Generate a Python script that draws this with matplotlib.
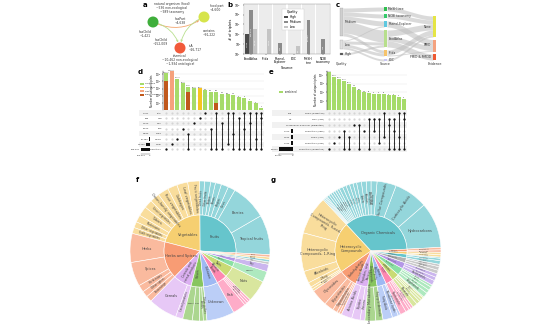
import numpy as np
import matplotlib
matplotlib.use("Agg")
import matplotlib.pyplot as plt
import matplotlib.colors as mcolors
from matplotlib.patches import Wedge, Circle, FancyArrowPatch, Rectangle

W, H = 534, 324

# ---------------- data ----------------
# a: knowledge graph schema
a_node_labels = ["natural organism (food)\n~536 non-ecological\n~989 taxonomy",
                 "food part\n~4,600",
                 "chemical\n~10,462 non-ecological\n~1,934 ontological"]
a_edge_labels = ["hasPart\n~4,638", "contains\n~91,222", "isA\n~26,717",
                 "hasChild\n~1,421", "hasChild\n~152,009"]

# b: triplets per source and quality
b_sources = ["FoodAtlas", "Frida", "Phenol-\nExplorer", "FDC", "MeSH\ntree", "NCBI\ntaxonomy"]
b_high = [1035, 0, 0, 0, 0, 0]
b_medium = [304210, 0, 142, 0, 25680, 318]
b_low = [3120, 3364, 0, 61, 0, 0]

# c: sankey quality -> source -> evidence
c_quality = ["Medium", "Low", "High"]
c_sources = ["MeSH tree", "NCBI taxonomy", "Phenol-Explorer", "FoodAtlas", "Frida", "FDC"]
c_evidence = ["None", "PMID", "PMID & PMCID"]
c_q2s = [("Medium", "MeSH tree", 4), ("Medium", "NCBI taxonomy", 4), ("Medium", "Phenol-Explorer", 5),
         ("Medium", "FoodAtlas", 12), ("Medium", "Frida", 3), ("Low", "Phenol-Explorer", 1),
         ("Low", "FoodAtlas", 3), ("Low", "Frida", 3), ("Low", "FDC", 2), ("High", "FoodAtlas", 2)]
c_s2e = [("MeSH tree", "None", 4), ("NCBI taxonomy", "None", 4), ("Phenol-Explorer", "PMID", 6),
         ("FoodAtlas", "None", 6), ("FoodAtlas", "PMID", 5), ("FoodAtlas", "PMID & PMCID", 6),
         ("Frida", "None", 5), ("Frida", "PMID", 1), ("FDC", "None", 2)]

# d: upset of sources
d_rows = ["TAX", "NMI", "FDC", "PhX", "Frida", "MeSH", "NCBI", "FoodAtlas"]
d_sizes = [1421, 989, 4600, 6210, 9540, 12480, 91222, 205331]
d_sets = [[7], [6], [5], [3], [4, 7], [2], [1], [0], [3, 7], [0, 7], [2, 7], [0, 6],
          [0, 4, 7], [1, 7], [0, 3, 7], [0, 2, 7], [0, 5, 7], [0, 1, 7]]
d_totals = [160000, 300000, 25000, 5500, 1780, 1060, 1050, 640, 380, 375, 180, 175, 140, 66, 50, 21, 9, 2]
d_lower = [12000, 0, 0, 0, 380, 0, 0, 0, 0, 11, 0, 0, 0, 0, 0, 0, 0, 0]
d_kind = ["g", "s", "g", "g", "g", "g", "y", "g", "g", "g", "g", "g", "g", "g", "g", "g", "g", "g"]
d_legend = ["combined", "FoodAtlas", "Frida", "Phenol-Explorer"]

# e: upset of weighting schemes
e_rows = ["Frida (weighted)", "FDC (raw)", "Phenol-Explorer (weighted)", "FoodAtlas (high)",
          "Frida (raw)", "FoodAtlas (raw)", "FoodAtlas (weighted)"]
e_sizes = [138, np.nan, 1000, 4410, 4342, 4793, 30512]
e_sets = [[6], [5], [4], [3, 6], [4, 6], [2], [2, 6], [3], [1, 6], [1, 3], [1, 5], [0, 4],
          [1, 2, 6], [1, 3, 6], [0, 4, 6], [0, 1, 6]]
e_totals = [22000, 6400, 3800, 2100, 1000, 440, 175, 100, 85, 69, 69, 68, 46, 45, 30, 18]

# f: food ontology sunburst
f_cats = ["Fruits", "Vegetables", "Herbs and Spices", "Cereals and\ncereal products", "Pulses", "Unknown",
          "Aquatic\nFoods", "Nuts", "Gourds", "Soy", "Teas", "Coffee", "Cocoa", "Dairy"]
f_kids = [["Tropical fruits", "Berries", "Citrus", "Drupes", "Pomes", "Melons", "Other fruits", "Dried fruits"],
          ["Fruit vegetables", "Leaf vegetables", "Cabbages", "Root vegetables", "Onion-family vegetables",
           "Shoot vegetables", "Tubers", "Mushrooms", "Other vegetables", "Stalk vegetables"],
          ["Herbs", "Spices", "Herb mixes", "Other spices", "Seasonings"],
          ["Cereals", "Cereal products"],
          ["Beans", "Peas", "Lentils", "Other pulses"],
          ["Unknown"],
          ["Fish", "Molluscs", "Crustaceans", "Seaweed"],
          ["Nuts"], ["Gourds"], ["Soy"], ["Teas"], ["Coffee"], ["Cocoa"], ["Dairy"]]
f_vals = [[33, 30, 6, 6, 5, 4, 5, 4],
          [10, 9, 8, 9, 8, 7, 8, 6, 5, 5],
          [24, 20, 6, 5, 5],
          [24, 6],
          [8, 6, 3, 3],
          [23],
          [11, 2, 2, 2],
          [18], [9], [6], [2], [2], [2], [2]]

# g: chemical ontology sunburst
g_cats = ["Organic Chemicals", "Heterocyclic\nCompounds", "Carbohydrates", "Amino Acids,\nPeptides, and\nProteins",
          "Polycyclic\nCompounds", "Lipids", "Nucleic\nAcids", "Inorganic\nChemicals", "Polymers", "Pigments",
          "Hormones", "Vitamins", "Enzymes", "Toxins"]
g_kids = [["Hydrocarbons", "Carboxylic Acids", "Sulfur Compounds", "Alcohols", "Aldehydes", "Ketones", "Esters",
           "Ethers", "Phenols", "Amines", "Amides", "Lactones", "Nitriles", "Quinones", "Halogenated", "Acetals",
           "Anhydrides", "Imines", "Thiols", "Peroxides", "Epoxides", "Oximes"],
          ["Heterocyclic\nCompounds, Fused-\nRing", "Heterocyclic\nCompounds, 1-Ring", "Alkaloids",
           "2-Ring", "Bridged-Ring", "Other"],
          ["Glycosides", "Polysaccharides", "Oligosaccharides", "Monosaccharides", "Sugar Alcohols"],
          ["Amino Acids", "Peptides", "Proteins"],
          ["Secondary Metabolites", "Polycyclic Aromatic"],
          ["Fatty Acids", "Membrane Lipids", "Glycolipids"],
          ["Nucleotides", "Nucleosides", "Purines", "Pyrimidines"],
          ["Minerals", "Metals", "Salts", "Gases", "Oxides"],
          ["Polyphenols", "Tannins", "Lignins", "Resins"],
          ["Carotenoids", "Flavonoids", "Chlorophylls"],
          ["Steroids", "Peptide H.", "Amines H."],
          ["Vitamin A", "Vitamin B", "Vitamin E"],
          ["Hydrolases", "Oxidases"],
          ["Mycotoxins", "Phycotoxins"]]
g_vals = [[38, 28, 16, 5, 4, 4, 4, 3, 3, 3, 3, 3, 2, 2, 2, 2, 2, 2, 1, 1, 1, 1],
          [32, 32, 10, 4, 2, 2],
          [14, 8, 4, 2, 2],
          [9, 7, 4],
          [9, 6],
          [8, 5, 2],
          [5, 3, 2, 2],
          [4, 3, 2, 2, 1],
          [4, 3, 3, 2],
          [4, 3, 3],
          [3, 3, 2],
          [3, 2, 1],
          [2, 2],
          [2, 2]]

pastel = ['#66C5CC', '#F6CF71', '#F89C74', '#DCB0F2', '#87C55F', '#9EB9F3',
          '#FE88B1', '#C9DB74', '#8BE0A4', '#B497E7', '#B3B3B3']

# ---------------- figure ----------------
fig = plt.figure(figsize=(W / 100, H / 100), dpi=100)
plt.rcParams['font.family'] = 'DejaVu Sans'
TXT = '#333333'


def box(x0, y0, x1, y1):
    return [x0 / W, 1 - y1 / H, (x1 - x0) / W, (y1 - y0) / H]


canvas = fig.add_axes([0, 0, 1, 1])
canvas.set_xlim(0, W)
canvas.set_ylim(H, 0)
canvas.axis('off')

for lab, (x, y) in zip("abcdefg", [(143, 2), (227, 2), (336, 2), (138, 69), (269, 69), (136, 177), (271, 177)]):
    canvas.text(x, y, lab, fontsize=5, fontweight='bold', va='top', ha='left')

# ---- a
node_xy = [(153, 22), (204, 17), (180, 48)]
node_cols = ['#3fae3b', '#d6e44c', '#f15a3a']
for (x, y), c in zip(node_xy, node_cols):
    canvas.add_patch(Circle((x, y), 5.5, fc=c, ec='none', zorder=3))


def arrow(p, q, rad, col):
    canvas.add_patch(FancyArrowPatch(p, q, connectionstyle=f"arc3,rad={rad}", arrowstyle='-|>',
                                     mutation_scale=2.5, lw=0.6, color=col, shrinkA=4, shrinkB=4.2, zorder=2))


arrow(node_xy[0], node_xy[1], 0.3, '#f3a56e')
arrow(node_xy[1], node_xy[2], 0.3, '#b9e08f')
arrow(node_xy[0], node_xy[2], -0.3, '#b9e08f')
arrow((185, 45), (185, 52.5), 1.6, '#f3a56e')
arrow((149, 26), (149.5, 18), 1.6, '#b9e08f')
fa = dict(fontsize=2.2, color=TXT, linespacing=1.1)
canvas.text(172, 8, a_node_labels[0], ha='center', va='center', **fa)
canvas.text(210, 8, a_node_labels[1], ha='left', va='center', **fa)
canvas.text(180, 60, a_node_labels[2], ha='center', va='center', **fa)
canvas.text(180, 21, a_edge_labels[0], ha='center', va='center', **fa)
canvas.text(203, 33, a_edge_labels[1], ha='left', va='center', **fa)
canvas.text(189, 48, a_edge_labels[2], ha='left', va='center', **fa)
canvas.text(145, 34, a_edge_labels[3], ha='center', va='center', **fa)
canvas.text(168, 42, a_edge_labels[4], ha='right', va='center', **fa)

# ---- b
axb = fig.add_axes(box(244, 4, 330, 54))
xb = np.arange(len(b_sources))
for i in xb:
    axb.axvspan(i - 0.46, i + 0.46, color='#ececec', lw=0, zorder=0)
bw = 0.27
for vals, off, col, nm in [(b_high, -bw, '#4a4a4a', 'High'), (b_medium, 0, '#8c8c8c', 'Medium'),
                           (b_low, bw, '#c4c4c4', 'Low')]:
    v = np.array(vals, float)
    m = v > 0
    axb.bar(xb[m] + off, v[m], width=bw, color=col, zorder=2, label=nm)
    for xi, vi in zip(xb[m] + off, v[m]):
        axb.text(xi, np.sqrt(vi * 10), f"{int(vi):,}", rotation=90, ha='center', va='center',
                 fontsize=1.6, color='white', zorder=3)
axb.set_yscale('log')
axb.set_ylim(10, 1.2e6)
axb.set_xlim(-0.5, len(b_sources) - 0.5)
axb.set_xticks(xb)
axb.set_xticklabels(b_sources, fontsize=2.2, linespacing=1.0)
axb.tick_params(axis='both', labelsize=2.2, length=1, width=0.3, pad=0.8)
axb.tick_params(axis='y', which='minor', length=0)
axb.set_ylabel("# of triplets", fontsize=2.5, labelpad=1)
axb.set_xlabel("Source", fontsize=2.6, labelpad=0.8)
for s in axb.spines.values():
    s.set_linewidth(0.3)
    s.set_color('#888888')
leg = axb.legend(title="Quality", fontsize=2.2, title_fontsize=2.3, loc='upper center',
                 bbox_to_anchor=(0.57, 0.94), handlelength=1.2, handleheight=0.7, borderpad=0.5,
                 labelspacing=0.3, framealpha=1)
leg.get_frame().set_linewidth(0.3)

# ---- c: sankey
SC = 1.0


def totals(flows, idx):
    t = {}
    for f in flows:
        t[f[idx]] = t.get(f[idx], 0) + f[2]
    return t


def node_pos(names, tot, top, gap):
    pos, y = {}, top
    for n in names:
        pos[n] = y
        y += tot[n] * SC + gap
    return pos


q_tot = totals(c_q2s, 0)
s_tot = totals(c_q2s, 1)
e_tot = totals(c_s2e, 1)
q_pos = node_pos(c_quality, q_tot, 8, 4)
s_pos = node_pos(c_sources, s_tot, 7, 3)
e_pos = node_pos(c_evidence, e_tot, 16, 2.5)
xq, xs, xe, nw = 340, 384, 433, 3


def links(flows, src, dst, spos, dpos, x0, x1):
    oo = {n: 0 for n in src}
    io = {n: 0 for n in dst}
    yo, yi = {}, {}
    for f in sorted(flows, key=lambda f: (src.index(f[0]), dst.index(f[1]))):
        yo[f] = spos[f[0]] + oo[f[0]]
        oo[f[0]] += f[2] * SC
    for f in sorted(flows, key=lambda f: (dst.index(f[1]), src.index(f[0]))):
        yi[f] = dpos[f[1]] + io[f[1]]
        io[f[1]] += f[2] * SC
    t = np.linspace(0, 1, 40)
    s = t * t * (3 - 2 * t)
    for f in flows:
        yt = yo[f] + (yi[f] - yo[f]) * s
        canvas.fill_between(x0 + (x1 - x0) * t, yt, yt + f[2] * SC, color='#bdbdbd', alpha=0.55, lw=0)


links(c_q2s, c_quality, c_sources, q_pos, s_pos, xq + nw, xs)
links(c_s2e, c_sources, c_evidence, s_pos, e_pos, xs + nw, xe)
q_cols = ['#cfcfcf', '#e0e0e0', '#4d4d4d']
s_cols = ['#2fbf4f', '#34c96a', '#5fc8e0', '#b7df8c', '#f6c36b', '#c9c6f2']
e_cols = ['#e5e545', '#f4a27f', '#ee5a33']
ft = dict(fontsize=2.2, color=TXT, va='center')
for n, c in zip(c_quality, q_cols):
    canvas.add_patch(Rectangle((xq, q_pos[n]), nw, q_tot[n] * SC, fc=c, ec='#999999', lw=0.2))
    canvas.text(xq + nw + 1.5, q_pos[n] + q_tot[n] * SC / 2, n, ha='left', **ft)
for n, c in zip(c_sources, s_cols):
    canvas.add_patch(Rectangle((xs, s_pos[n]), nw, s_tot[n] * SC, fc=c, ec='none'))
    canvas.text(xs + nw + 1.5, s_pos[n] + s_tot[n] * SC / 2, n, ha='left', **ft)
for n, c in zip(c_evidence, e_cols):
    canvas.add_patch(Rectangle((xe, e_pos[n]), nw, e_tot[n] * SC, fc=c, ec='none'))
    canvas.text(xe - 1.5, e_pos[n] + e_tot[n] * SC / 2, n, ha='right', **ft)
for x, t in [(xq + 1.5, "Quality"), (xs + 1.5, "Source"), (xe + 1.5, "Evidence")]:
    canvas.text(x, 64, t, ha='center', fontsize=2.3, color=TXT, va='center')

# ---- d / e: upset plots
col_colors = {"g": '#a6db6a', "s": '#f5a27c', "y": '#f6c520'}


def upset(x0, dx, y0, dy, bar_top, ymax, sets, tot, lower, kinds, rows, sizes, size_right, size_w, size_max,
          label_right, shade_left, ylabel, ticks):
    n = len(tot)
    cx = x0 + dx * np.arange(n)
    ry = y0 + dy * np.arange(len(rows))
    ax = fig.add_axes(box(cx[0] - dx / 2, bar_top, cx[-1] + dx / 2, ry[0] - dy / 2 - 0.5))
    ax.set_xlim(cx[0] - dx / 2, cx[-1] + dx / 2)
    ax.set_yscale('log')
    ax.set_ylim(1, ymax)
    ax.bar(cx, tot, width=dx * 0.72, color=[col_colors[k] for k in kinds], zorder=2)
    lw = np.array(lower, float)
    m = lw > 0
    ax.bar(cx[m], lw[m], width=dx * 0.72, color='#c0581c', zorder=3)
    for x, t in zip(cx, tot):
        ax.text(x, t * 1.15, f"{t:,}", ha='center', va='bottom', fontsize=1.2, color=TXT, zorder=4)
    ax.set_xticks([])
    ax.set_yticks(ticks)
    ax.yaxis.grid(True, color='#e3e3e3', lw=0.3, zorder=0)
    ax.tick_params(axis='y', labelsize=1.8, length=0.8, width=0.3, pad=0.5)
    ax.tick_params(axis='y', which='minor', length=0)
    ax.set_ylabel(ylabel, fontsize=1.8, labelpad=0.6)
    for k, s in ax.spines.items():
        s.set_linewidth(0.3)
        s.set_visible(k == 'left')
    ax.set_facecolor('none')
    # matrix
    for i, y in enumerate(ry):
        if i % 2 == 0:
            canvas.add_patch(Rectangle((shade_left, y - dy / 2), cx[-1] + dx / 2 - shade_left, dy,
                                       fc='#f1f1f1', ec='none', zorder=0))
        canvas.text(label_right, y, rows[i], ha='right', va='center', fontsize=1.7, color=TXT)
        v = sizes[i]
        if np.isnan(v):
            canvas.text(size_right - 0.8, y, "NA", ha='right', va='center', fontsize=1.6, color=TXT)
        else:
            w = v / size_max * size_w
            canvas.add_patch(Rectangle((size_right - w, y - dy * 0.3), w, dy * 0.6, fc='#111111', ec='none'))
            canvas.text(size_right - w - 0.8, y, f"{int(v):,}", ha='right', va='center', fontsize=1.6, color=TXT)
    xx, yy = np.meshgrid(cx, ry)
    canvas.scatter(xx.ravel(), yy.ravel(), s=2.4, c='#d4d4d4', lw=0, zorder=2)
    for x, st in zip(cx, sets):
        ys = ry[st]
        canvas.plot([x, x], [ys.min(), ys.max()], color='#111111', lw=0.6, zorder=3)
        canvas.scatter([x] * len(ys), ys, s=2.6, c='#111111', lw=0, zorder=4)
    ya = ry[-1] + dy * 0.8
    canvas.plot([size_right - size_w, size_right], [ya, ya], color='#555555', lw=0.3)
    for xt, lab in [(size_right - size_w, f"{int(size_max):,}"), (size_right, "0")]:
        canvas.plot([xt, xt], [ya, ya + 0.8], color='#555555', lw=0.3)
        canvas.text(xt, ya + 1.2, lab, ha='center', va='top', fontsize=1.5, color=TXT)
    return ax


upset(166, 5.6, 113, 5.2, 71, 3e5, d_sets, d_totals, d_lower, d_kind, d_rows, d_sizes,
      150, 9, 205331, 162, 139, "Number of unique triplets", [1e1, 1e2, 1e3, 1e4, 1e5])
upset(329, 5.0, 113, 6.0, 71, 3e4, e_sets, e_totals, [0] * len(e_totals), ["g"] * len(e_totals), e_rows,
      e_sizes, 293, 14, 30512, 324, 272, "Number of unique triplets", [1e1, 1e2, 1e3, 1e4])

# legends
for i, (lab, c) in enumerate(zip(d_legend, ['#a6db6a', '#f6c520', '#f5a27c', '#c0581c'])):
    y = 84 + i * 3.6
    canvas.add_patch(Rectangle((140, y - 0.9), 3.5, 1.8, fc=c, ec='none'))
    canvas.text(144.5, y, lab, ha='left', va='center', fontsize=1.6, color=TXT)
canvas.add_patch(Rectangle((279, 91.1), 4, 1.8, fc='#a6db6a', ec='none'))
canvas.text(284.5, 92, "combined", ha='left', va='center', fontsize=1.8, color=TXT)


# ---- f / g: sunbursts
def light(c, a=0.7):
    r = np.array(mcolors.to_rgb(c))
    return tuple(r * a + (1 - a))


def radial_rot(m):
    m = m % 360
    return m if (m <= 90 or m >= 270) else m - 180


def sunburst(cx, cy, cats, kids, vals, start, horiz, tang, r1=36, r2=70):
    total = float(sum(sum(v) for v in vals))
    a = start
    for k, (cat, names, vv) in enumerate(zip(cats, kids, vals)):
        col = pastel[k % len(pastel)]
        a0 = a
        for nm, v in zip(names, vv):
            sp = v / total * 360
            canvas.add_patch(Wedge((cx, cy), r2, -(a + sp), -a, width=r2 - r1, fc=light(col),
                                   ec='white', lw=0.4))
            m = np.deg2rad(a + sp / 2)
            rr = (r1 + r2) / 2
            if sp >= 1.8:
                hz = nm in horiz
                rot = 0 if hz else radial_rot(a + sp / 2)
                fs = 2.5 if sp > 8 else (1.9 if sp > 3 else 1.3)
                if hz and sp < 10:
                    fs = 1.5
                canvas.text(cx + rr * np.cos(m), cy - rr * np.sin(m), nm, rotation=rot, ha='center',
                            va='center', fontsize=fs, color='#444444', rotation_mode='anchor',
                            linespacing=1.0)
            a += sp
        canvas.add_patch(Wedge((cx, cy), r1, -a, -a0, fc=col, ec='white', lw=0.4))
        sp = a - a0
        m = np.deg2rad(a0 + sp / 2)
        if sp >= 4:
            if sp >= 45:
                rr, rot, fs = r1 * 0.55, 0, 2.6
            elif cat in tang:
                rr, rot, fs = r1 * 0.6, radial_rot(a0 + sp / 2 - 90), 2.4
            else:
                rr, rot, fs = r1 * 0.62, radial_rot(a0 + sp / 2), (2.2 if sp > 12 else 1.5)
            canvas.text(cx + rr * np.cos(m), cy - rr * np.sin(m), cat, rotation=rot, ha='center',
                        va='center', fontsize=fs, color='#444444', rotation_mode='anchor', linespacing=1.0)


sunburst(200, 251, f_cats, f_kids, f_vals, -3,
         ["Tropical fruits", "Berries", "Herbs", "Spices", "Cereals", "Unknown", "Fish", "Nuts", "Beans",
          "Peas", "Gourds"], ["Herbs and Spices"])
sunburst(371, 251, g_cats, g_kids, g_vals, 3,
         ["Hydrocarbons", "Heterocyclic\nCompounds, 1-Ring"], ["Heterocyclic\nCompounds"])

fig.savefig("out.png", dpi=100)
